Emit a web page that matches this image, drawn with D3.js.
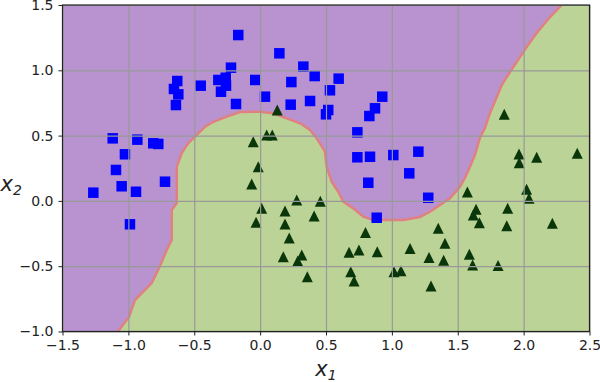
<!DOCTYPE html>
<html lang="en">
<head>
    <meta charset="UTF-8">
    <title>Moons decision boundary</title>
    <script src="https://cdnjs.cloudflare.com/ajax/libs/d3/7.8.5/d3.min.js"></script>
    <style>
        body {
            margin: 0;
            background: #fff;
            font-family: "DejaVu Sans", sans-serif;
        }
        .tick text {
            font-size: 14px;
            fill: #222;
            font-family: "DejaVu Sans", sans-serif;
        }
        .axis-label {
            font-size: 21px;
            font-style: italic;
            fill: #222;
            font-family: "DejaVu Sans", sans-serif;
        }
    </style>
</head>
<body>
    <div id="chart"></div>

    <script>
        // tick labels
        const xTicks = [-1.5, -1.0, -0.5, 0.0, 0.5, 1.0, 1.5, 2.0, 2.5];
        const yTicks = [-1.0, -0.5, 0.0, 0.5, 1.0, 1.5];

        // class 0 (blue squares)
        const squaresX = [-1.266, -1.119, -0.932, -0.811, -0.773, -1.026, -1.094, -1.051, -0.942, -0.722,
            -0.988, -0.629, -0.654, -0.621, -0.639, -0.451, -0.221, -0.317, -0.261, -0.259,
            -0.297, -0.183, -0.166, -0.037, 0.146, 0.328, 0.414, 0.237, 0.596, 0.530,
            0.037, 0.232, 0.379, 0.517, 0.500, 0.927, 0.872, 0.829, 0.738, 0.738,
            0.834, 1.011, 1.201, 1.132, 0.821, 0.885, 1.276];
        const squaresY = [0.063, 0.479, 0.469, 0.441, 0.436, 0.357, 0.237, 0.112, 0.070, 0.147,
            -0.179, 0.918, 0.857, 0.816, 0.734, 0.882, 1.020, 0.926, 0.943, 0.882,
            0.836, 0.742, 1.270, 0.926, 1.130, 1.028, 0.956, 0.910, 0.936, 0.847,
            0.798, 0.737, 0.765, 0.696, 0.663, 0.798, 0.709, 0.650, 0.525, 0.334,
            0.338, 0.351, 0.377, 0.211, 0.139, -0.129, 0.024];

        // class 1 (green triangles)
        const trianglesX = [0.130, -0.052, 0.050, 0.092, -0.014, -0.064, 0.278, 0.457, 0.012, 0.189,
            0.410, -0.031, 0.189, 0.221, 0.176, 0.316, 0.285, 0.358, 0.800, 0.675,
            0.750, 0.889, 0.688, 0.713, 1.016, 1.069, 1.138, 1.282, 1.393, 1.588,
            1.613, 1.806, 1.297, 1.352, 1.403, 1.573, 1.639, 1.618, 1.664, 1.879,
            1.872, 2.023, 2.041, 1.965, 1.967, 2.099, 2.407, 2.218, 1.853];
        const trianglesY = [0.696, 0.453, 0.505, 0.505, 0.262, 0.129, 0.007, -0.003, -0.057, -0.077,
            -0.116, -0.164, -0.177, -0.284, -0.427, -0.414, -0.460, -0.580, -0.242, -0.394,
            -0.376, -0.389, -0.542, -0.613, -0.542, -0.534, -0.365, -0.433, -0.455, -0.408,
            -0.491, -0.495, -0.652, -0.210, -0.325, 0.068, -0.064, -0.108, -0.167, -0.057,
            -0.190, 0.089, 0.020, 0.359, 0.292, 0.334, 0.364, -0.172, 0.663];

        // decision boundary, bottom-left to top-right
        const boundaryX = [-1.079, -0.995, -0.950, -0.823, -0.760, -0.709, -0.671, -0.671, -0.633, -0.633,
            -0.595, -0.545, -0.481, -0.418, -0.355, -0.254, -0.153, -0.001, 0.100, 0.202,
            0.303, 0.379, 0.429, 0.454, 0.492, 0.505, 0.543, 0.593, 0.631, 0.707,
            0.783, 0.859, 1.087, 1.213, 1.289, 1.441, 1.517, 1.554, 1.592, 1.630,
            1.668, 1.706, 1.745, 1.796, 1.834, 1.872, 1.947, 2.023, 2.099, 2.200, 2.289];
        const boundaryY = [-1.0, -0.889, -0.759, -0.629, -0.498, -0.376, -0.299, -0.070, -0.016, 0.260,
            0.367, 0.443, 0.505, 0.568, 0.606, 0.645, 0.681, 0.683, 0.671, 0.632,
            0.594, 0.543, 0.479, 0.441, 0.377, 0.262, 0.147, 0.070, -0.006, -0.057,
            -0.121, -0.146, -0.146, -0.123, -0.083, 0.020, 0.109, 0.175, 0.260, 0.351,
            0.482, 0.558, 0.673, 0.796, 0.887, 0.949, 1.064, 1.178, 1.286, 1.408, 1.5];

        const squares = squaresX.map((x, i) => ({x: x, y: squaresY[i]}));
        const triangles = trianglesX.map((x, i) => ({x: x, y: trianglesY[i]}));
        const boundary = boundaryX.map((x, i) => [x, boundaryY[i]]);

        const margin = {top: 5, right: 10.5, bottom: 50.5, left: 62.5};
        const width = 600 - margin.left - margin.right;
        const height = 382 - margin.top - margin.bottom;

        const svg = d3.select("#chart")
            .append("svg")
            .attr("width", 600)
            .attr("height", 382)
            .append("g")
            .attr("transform", `translate(${margin.left},${margin.top})`);

        const x = d3.scaleLinear().domain([-1.5, 2.5]).range([0, width]);
        const y = d3.scaleLinear().domain([-1, 1.5]).range([height, 0]);

        svg.append("defs").append("clipPath")
            .attr("id", "clip")
            .append("rect")
            .attr("width", width)
            .attr("height", height);

        const plot = svg.append("g").attr("clip-path", "url(#clip)");

        // green class region
        plot.append("rect")
            .attr("width", width)
            .attr("height", height)
            .attr("fill", "#bcd397");

        // purple class region: above / left of boundary
        const purple = boundary.concat([[-1.5, 1.5], [-1.5, -1.0]]);
        plot.append("path")
            .attr("d", d3.line().x(d => x(d[0])).y(d => y(d[1]))(purple) + "Z")
            .attr("fill", "#b993d0");

        plot.append("path")
            .attr("d", d3.line().x(d => x(d[0])).y(d => y(d[1]))(boundary))
            .attr("fill", "none")
            .attr("stroke", "#e08080")
            .attr("stroke-width", 2.5);

        // grid
        svg.append("g")
            .attr("transform", `translate(0,${height})`)
            .call(d3.axisBottom(x).tickValues(xTicks).tickSize(-height).tickFormat(""))
            .call(g => g.select(".domain").remove())
            .selectAll("line").attr("stroke", "#999").attr("stroke-width", 1.2);

        svg.append("g")
            .call(d3.axisLeft(y).tickValues(yTicks).tickSize(-width).tickFormat(""))
            .call(g => g.select(".domain").remove())
            .selectAll("line").attr("stroke", "#999").attr("stroke-width", 1.2);

        // points
        const sq = 10.5;
        plot.selectAll(".sq")
            .data(squares)
            .enter().append("rect")
            .attr("class", "sq")
            .attr("x", d => x(d.x) - sq / 2)
            .attr("y", d => y(d.y) - sq / 2)
            .attr("width", sq)
            .attr("height", sq)
            .attr("fill", "#0000ff");

        const t = 5.5;
        plot.selectAll(".tri")
            .data(triangles)
            .enter().append("path")
            .attr("class", "tri")
            .attr("d", d => {
                const cx = x(d.x), cy = y(d.y);
                return `M${cx},${cy - t}L${cx - t},${cy + t}L${cx + t},${cy + t}Z`;
            })
            .attr("fill", "#0a370a");

        // frame
        svg.append("rect")
            .attr("width", width)
            .attr("height", height)
            .attr("fill", "none")
            .attr("stroke", "#222")
            .attr("stroke-width", 1.2);

        // axes
        const fmt = d3.format(".1f");
        svg.append("g")
            .attr("transform", `translate(0,${height})`)
            .attr("font-family", "DejaVu Sans")
            .call(d3.axisBottom(x).tickValues(xTicks).tickSize(4).tickPadding(5).tickFormat(fmt))
            .call(g => g.attr("font-family", "DejaVu Sans").attr("font-size", 14))
            .call(g => g.select(".domain").remove())
            .call(g => g.selectAll("line").attr("stroke", "#222"));

        svg.append("g")
            .call(d3.axisLeft(y).tickValues(yTicks).tickSize(4).tickPadding(5).tickFormat(fmt))
            .call(g => g.attr("font-family", "DejaVu Sans").attr("font-size", 14))
            .call(g => g.select(".domain").remove())
            .call(g => g.selectAll("line").attr("stroke", "#222"));

        const xl = svg.append("text")
            .attr("class", "axis-label")
            .attr("x", width / 2)
            .attr("y", height + 44)
            .attr("text-anchor", "middle");
        xl.append("tspan").text("x");
        xl.append("tspan").attr("font-size", "14px").attr("dy", 4).text("1");

        const yl = svg.append("text")
            .attr("class", "axis-label")
            .attr("x", -62)
            .attr("y", y(0.125) + 6)
            .attr("text-anchor", "start");
        yl.append("tspan").text("x");
        yl.append("tspan").attr("font-size", "14px").attr("dy", 4).text("2");
    </script>
</body>
</html>
